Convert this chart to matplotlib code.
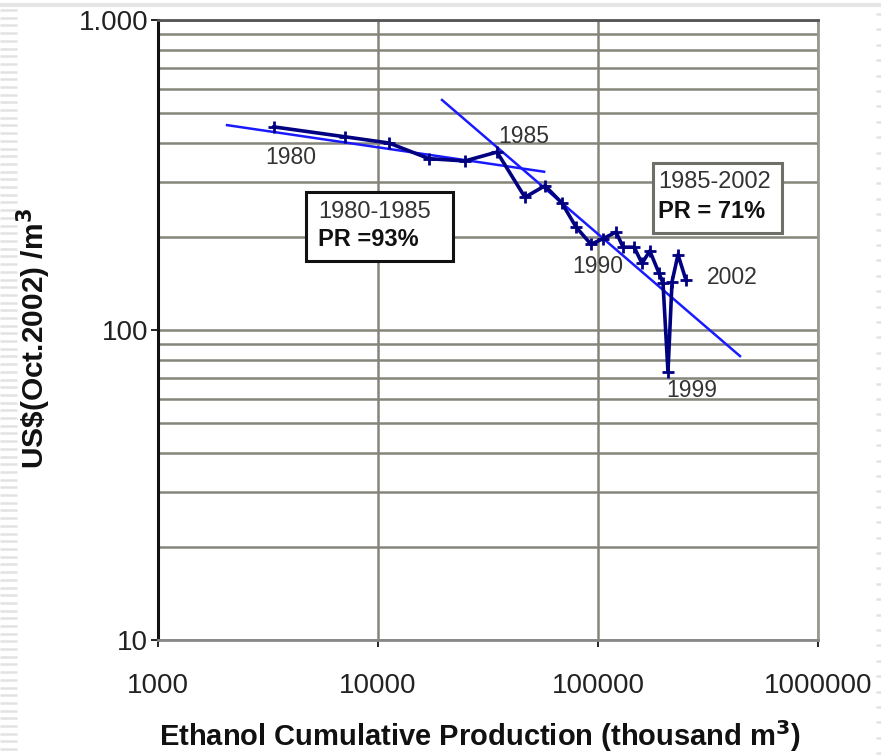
import matplotlib
matplotlib.use("Agg")
import matplotlib.pyplot as plt
import numpy as np
from matplotlib.patches import Rectangle
from matplotlib.ticker import FixedLocator, NullLocator

plt.rcParams['font.family'] = ['Liberation Sans', 'DejaVu Sans']

# cumulative production (thousand m3) and cost (US$ Oct.2002 / m3), 1980-2002
years = list(range(1980, 2003))
cum_prod = [3365, 7080, 11220, 17060, 24840, 34750, 46560, 57400, 68500, 79430,
            92900, 105400, 120800, 130000, 146000, 158500, 172000, 189000,
            197400, 208000, 217000, 231000, 251000]
cost = [452, 420, 401, 357, 351, 375, 268, 292, 257, 215,
        189, 197, 207, 185, 185, 164, 180, 153,
        142, 73.3, 143, 175, 145]

# fitted learning curves (end points)
fit1_x = [2060, 56900]
fit1_y = [458, 324]
fit2_x = [19550, 441900]
fit2_y = [552, 82.4]

year_labels = ['1980', '1985', '1990', '1999', '2002']
year_label_x = [4025, 46100, 100000, 267500, 406000]
year_label_y = [359, 420, 160.7, 64, 148]

y_ticks = [10, 100, 1000]
y_tick_labels = ['10', '100', '1.000']
x_ticks = [1000, 10000, 100000, 1000000]
x_tick_labels = ['1000', '10000', '100000', '1000000']

W, H = 881, 755
fig = plt.figure(figsize=(W / 100, H / 100), dpi=100)

# slide background decorations
bg = fig.add_axes([0, 0, 1, 1])
bg.set_xlim(0, W)
bg.set_ylim(H, 0)
bg.axis('off')
bg.hlines(np.arange(10, H, 7.7), 0, 17, color='#e2e2e2', lw=1.8)
bg.hlines(np.arange(14, H, 15.4), 876, 881, color='#e2e2e2', lw=1.8)
bg.hlines([5], 0, W, color='#e6e6e6', lw=3)

ax = fig.add_axes([158 / W, 1 - 640 / H, 660 / W, 620 / H])
ax.set_xscale('log')
ax.set_yscale('log')
ax.set_xlim(1000, 1000000)
ax.set_ylim(10, 1000)

ax.yaxis.set_major_locator(FixedLocator(y_ticks))
ax.set_yticklabels(y_tick_labels)
ax.xaxis.set_major_locator(FixedLocator(x_ticks))
ax.set_xticklabels(x_tick_labels)
ax.xaxis.set_minor_locator(NullLocator())
ax.yaxis.set_minor_locator(FixedLocator(
    [m * d for d in (10, 100) for m in range(2, 10)]))

ax.grid(True, which='major', axis='both', color='#85857a', lw=1.8)
ax.grid(True, which='minor', axis='y', color='#85857a', lw=1.8)
ax.tick_params(axis='y', which='minor', length=0)
ax.tick_params(axis='y', which='major', length=5, width=1.2, pad=2,
               labelsize=20, labelcolor='#222222')
ax.tick_params(axis='x', which='major', length=5, width=1.2, pad=19,
               labelsize=20, labelcolor='#222222')
ax.set_axisbelow(True)

ax.spines['left'].set_color('#111111')
ax.spines['left'].set_linewidth(2.2)
ax.spines['top'].set_color('#555555')
ax.spines['top'].set_linewidth(2)
ax.spines['right'].set_color('#999990')
ax.spines['right'].set_linewidth(2)
ax.spines['bottom'].set_color('#888888')
ax.spines['bottom'].set_linewidth(2)

ax.plot(fit1_x, fit1_y, color='#1a1aff', lw=1.8, zorder=3)
ax.plot(fit2_x, fit2_y, color='#1a1aff', lw=1.8, zorder=3)
ax.plot(cum_prod, cost, color='#000080', lw=2.6, marker='+', ms=8, mew=2,
        zorder=4)

for lab, lx, ly in zip(year_labels, year_label_x, year_label_y):
    ax.text(lx, ly, lab, ha='center', va='center', fontsize=16.5,
            color='#333333', zorder=5)

# annotation boxes (figure pixel layout)
def px(x, y):
    return x / W, 1 - y / H

fig.patches.append(Rectangle(px(306, 261), 147 / W, 69 / H,
                             transform=fig.transFigure, fill=True,
                             facecolor='white', edgecolor='#111111', lw=2.2,
                             zorder=10))
fig.text(*px(318, 212), '1980-1985', ha='left', va='center', fontsize=17,
         color='#333333', zorder=11)
fig.text(*px(318, 240), 'PR =93%', ha='left', va='center', fontsize=17,
         fontweight='bold', color='#111111', zorder=11)

fig.patches.append(Rectangle(px(653, 233), 129 / W, 70 / H,
                             transform=fig.transFigure, fill=True,
                             facecolor='white', edgecolor='#6f6f6a', lw=2.2,
                             zorder=10))
fig.text(*px(658, 182), '1985-2002', ha='left', va='center', fontsize=17,
         color='#333333', zorder=11)
fig.text(*px(658, 212), 'PR = 71%', ha='left', va='center', fontsize=17,
         fontweight='bold', color='#111111', zorder=11)

fig.text(*px(480, 736), r'Ethanol Cumulative Production (thousand m$^\mathbf{3}$)',
         ha='center', va='center', fontsize=21, fontweight='bold',
         color='#111111')
fig.text(*px(34, 339), r'US\$(Oct.2002) /m$^\mathbf{3}$', ha='center',
         va='center', rotation=90, fontsize=21.5, fontweight='bold',
         color='#111111')

fig.savefig('out.png', dpi=100)
